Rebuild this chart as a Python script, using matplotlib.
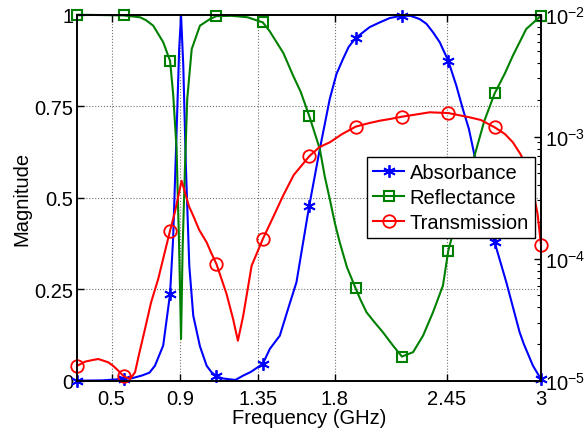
import numpy as np
import matplotlib
matplotlib.use('Agg')
import matplotlib.pyplot as plt

plt.rcParams['font.family'] = ['Liberation Sans', 'DejaVu Sans']
plt.rcParams['mathtext.fontset'] = 'custom'
plt.rcParams['mathtext.rm'] = 'Liberation Sans'

# marker positions (every 0.27 GHz)
mark_f = [0.3, 0.57, 0.84, 1.11, 1.38, 1.65, 1.92, 2.19, 2.46, 2.73, 3.0]

# absorbance (left axis)
f_abs = [0.3, 0.45, 0.57, 0.62, 0.675, 0.72, 0.752, 0.8, 0.84, 0.858, 0.878,
         0.893, 0.904, 0.917, 0.932, 0.952, 0.975, 1.014, 1.053, 1.08, 1.11,
         1.15, 1.22, 1.266, 1.31, 1.38, 1.421, 1.479, 1.527, 1.576, 1.65, 1.712,
         1.77, 1.809, 1.847, 1.88, 1.92, 2.002, 2.061, 2.12, 2.19, 2.24, 2.294,
         2.333, 2.371, 2.41, 2.46, 2.507, 2.545, 2.58, 2.613, 2.672, 2.73,
         2.798, 2.875, 2.9, 2.953, 3.0]
absorb = [0.0, 0.001, 0.005, 0.007, 0.014, 0.022, 0.041, 0.096, 0.237, 0.39, 0.68,
          0.906, 0.998, 0.861, 0.587, 0.314, 0.178, 0.094, 0.041, 0.024, 0.012,
          0.006, 0.002, 0.014, 0.024, 0.046, 0.087, 0.123, 0.196, 0.269, 0.477, 0.633,
          0.77, 0.838, 0.879, 0.912, 0.936, 0.966, 0.979, 0.991, 0.997, 0.997, 0.988,
          0.975, 0.952, 0.925, 0.874, 0.806, 0.742, 0.688, 0.615, 0.496, 0.378,
          0.269, 0.133, 0.1, 0.041, 0.004]

# reflectance (left axis)
f_ref = [0.3, 0.45, 0.57, 0.665, 0.7, 0.742, 0.8, 0.84, 0.858, 0.878, 0.893,
         0.904, 0.913, 0.927, 0.94, 0.966, 1.014, 1.072, 1.11, 1.2, 1.291, 1.38,
         1.42, 1.46, 1.5, 1.557, 1.6, 1.65, 1.68, 1.712, 1.74, 1.77, 1.8, 1.828,
         1.87, 1.92, 1.95, 1.984, 2.03, 2.08, 2.138, 2.19, 2.255, 2.313, 2.371,
         2.429, 2.46, 2.53, 2.613, 2.67, 2.73, 2.79, 2.836, 2.914, 3.0]
reflect = [1.0, 0.999, 0.998, 0.993, 0.985, 0.97, 0.925, 0.874, 0.783, 0.634, 0.36,
           0.114, 0.36, 0.587, 0.77, 0.906, 0.97, 0.988, 0.996, 0.997, 0.993, 0.979,
           0.955, 0.925, 0.895, 0.833, 0.79, 0.724, 0.68, 0.633, 0.56, 0.496, 0.43,
           0.378, 0.31, 0.253, 0.22, 0.187, 0.16, 0.132, 0.096, 0.066, 0.078, 0.123,
           0.187, 0.26, 0.355, 0.48, 0.615, 0.71, 0.785, 0.84, 0.888, 0.961, 0.997]

# transmission (right axis, log10 values)
f_tr = [0.3, 0.345, 0.39, 0.422, 0.48, 0.51, 0.539, 0.57, 0.607, 0.636, 0.66,
        0.694, 0.73, 0.771, 0.84, 0.868, 0.907, 0.927, 0.95, 0.975, 1.01, 1.053,
        1.08, 1.11, 1.169, 1.207, 1.235, 1.266, 1.315, 1.38, 1.44, 1.498, 1.56,
        1.65, 1.71, 1.77, 1.84, 1.92, 2.0, 2.061, 2.12, 2.19, 2.29, 2.352, 2.46,
        2.584, 2.65, 2.73, 2.79, 2.836, 2.88, 2.914, 2.94, 2.963, 2.98, 3.0]
log_tr = [-4.877, -4.844, -4.83, -4.822, -4.849, -4.88, -4.918, -4.964, -4.986,
          -4.931, -4.78, -4.576, -4.355, -4.166, -3.77, -3.62, -3.361, -3.456,
          -3.57, -3.648, -3.765, -3.866, -3.953, -4.043, -4.289, -4.494, -4.672,
          -4.467, -4.057, -3.839, -3.66, -3.484, -3.314, -3.161, -3.085, -3.046,
          -2.98, -2.918, -2.888, -2.869, -2.855, -2.836, -2.814, -2.8, -2.806,
          -2.841, -2.863, -2.923, -2.978, -3.046, -3.142, -3.238, -3.347, -3.511,
          -3.634, -3.888]
trans = 10 ** np.array(log_tr)

xticks = [0.5, 0.9, 1.35, 1.8, 2.45, 3]
xlabels = ['0.5', '0.9', '1.35', '1.8', '2.45', '3']
yticks = [0, 0.25, 0.5, 0.75, 1]
ylabels = ['0', '0.25', '0.5', '0.75', '1']


def marks(f):
    return [i for i, v in enumerate(f) if any(abs(v - m) < 1e-6 for m in mark_f)]


fs = 14.5
fig = plt.figure(figsize=(5.84, 4.35), dpi=100)
ax = fig.add_axes([0.1324, 0.1225, 0.7940, 0.8414])
ax2 = ax.twinx()

h1, = ax.plot(f_abs, absorb, color='b', lw=1.5, marker=(6, 2, 0), ms=9, mew=1.3,
              markevery=marks(f_abs), clip_on=False, label='Absorbance')
h2, = ax.plot(f_ref, reflect, color=(0, 0.5, 0), lw=1.5, marker='s', ms=7,
              mfc='none', mew=1.5, markevery=marks(f_ref), clip_on=False,
              label='Reflectance')
h3, = ax2.plot(f_tr, trans, color='r', lw=1.5, marker='o', ms=9, mfc='none',
               mew=1.3, markevery=marks(f_tr), clip_on=False, label='Transmission')

ax.set_xlim(0.3, 3)
ax.set_ylim(0, 1)
ax.set_xticks(xticks)
ax.set_xticklabels(xlabels)
ax.set_yticks(yticks)
ax.set_yticklabels(ylabels)
ax.grid(True, ls=':', color='0.45', lw=0.8)
ax.tick_params(direction='in', length=5, labelsize=fs, top=True, width=1, pad=3)
ax.tick_params(axis='x', pad=6)
ax.set_xlabel('Frequency (GHz)', fontsize=fs, labelpad=0)
ax.set_ylabel('Magnitude', fontsize=fs, labelpad=2)

ax2.set_yscale('log')
ax2.set_ylim(1e-5, 1e-2)
ax2.tick_params(which='major', direction='in', length=5, labelsize=fs, width=1, pad=3)
ax2.tick_params(which='minor', direction='in', length=3, width=0.8)

for a in (ax, ax2):
    for s in a.spines.values():
        s.set_linewidth(1.2)

leg = ax2.legend(handles=[h1, h2, h3], loc='center right', fontsize=fs,
                 fancybox=False, framealpha=1, edgecolor='k',
                 borderaxespad=0.3, handlelength=1.5, handletextpad=0.3,
                 borderpad=0.3, labelspacing=0.3)
leg.get_frame().set_linewidth(1.0)

fig.savefig('out.png', dpi=100)
